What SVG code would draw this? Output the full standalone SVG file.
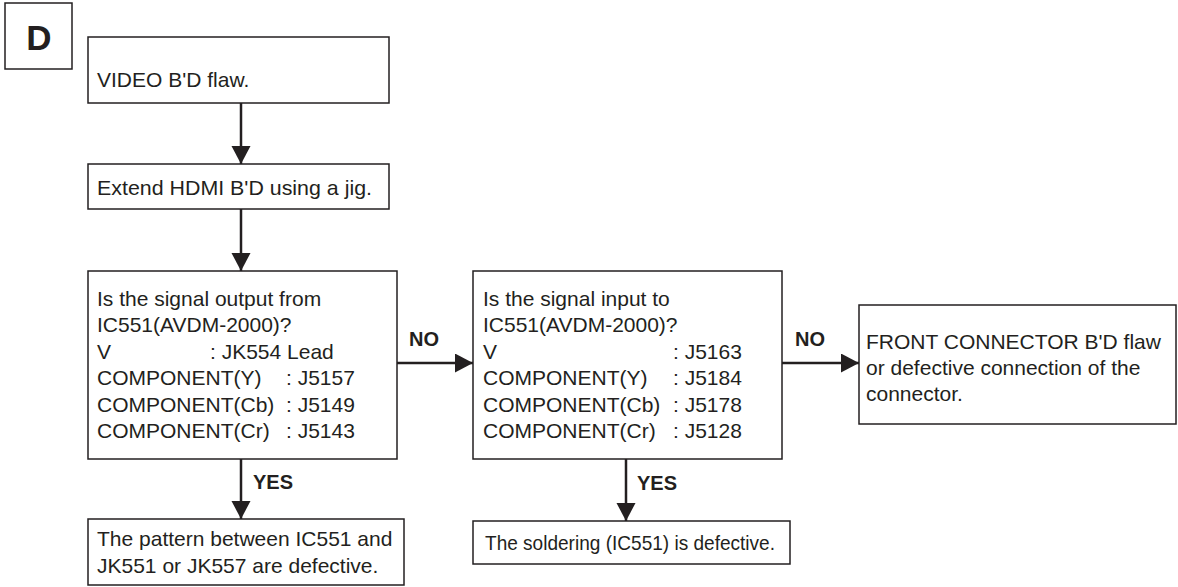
<svg xmlns="http://www.w3.org/2000/svg" width="1178" height="587" viewBox="0 0 1178 587">
<style>
.box{fill:#fff;stroke:#231f20;stroke-width:1.5}
.t{font-family:"Liberation Sans",Arial,sans-serif;font-size:21px;fill:#231f20}
.lb{font-family:"Liberation Sans",Arial,sans-serif;font-size:20px;font-weight:bold;fill:#231f20}
.ln{stroke:#231f20;stroke-width:2.5;fill:none}
</style>
<defs>
<marker id="ah" markerWidth="20" markerHeight="20" refX="18" refY="9.5" orient="auto" markerUnits="userSpaceOnUse" viewBox="0 0 20 20">
<path d="M0,0 L18,9.5 L0,19 Z" fill="#231f20"/>
</marker>
</defs>
<g id="label-d">
<rect class="box" x="5" y="3" width="67" height="66"/>
<text x="39" y="50" text-anchor="middle" style="font-family:'Liberation Sans',Arial,sans-serif;font-size:35px;font-weight:bold;fill:#231f20">D</text>
</g>
<g id="n1">
<rect class="box" x="88" y="37" width="301" height="66"/>
<text class="t" x="97" y="87">VIDEO B'D flaw.</text>
</g>
<g id="n2">
<rect class="box" x="88" y="164" width="301" height="45"/>
<text class="t" x="97" y="195" textLength="275" lengthAdjust="spacingAndGlyphs">Extend HDMI B'D using a jig.</text>
</g>
<g id="n3">
<rect class="box" x="88" y="271" width="309" height="188"/>
<text class="t">
<tspan x="97" y="306">Is the signal output from</tspan>
<tspan x="97" y="332">IC551(AVDM-2000)?</tspan>
<tspan x="97" y="359">V</tspan><tspan x="210" y="359">: JK554 Lead</tspan>
<tspan x="97" y="385">COMPONENT(Y)</tspan><tspan x="286" y="385">: J5157</tspan>
<tspan x="97" y="412">COMPONENT(Cb)</tspan><tspan x="286" y="412">: J5149</tspan>
<tspan x="97" y="438">COMPONENT(Cr)</tspan><tspan x="286" y="438">: J5143</tspan>
</text>
</g>
<g id="n4">
<rect class="box" x="473" y="271" width="309" height="188"/>
<text class="t">
<tspan x="483" y="306">Is the signal input to</tspan>
<tspan x="483" y="332">IC551(AVDM-2000)?</tspan>
<tspan x="483" y="359">V</tspan><tspan x="673" y="359">: J5163</tspan>
<tspan x="483" y="385">COMPONENT(Y)</tspan><tspan x="673" y="385">: J5184</tspan>
<tspan x="483" y="412">COMPONENT(Cb)</tspan><tspan x="673" y="412">: J5178</tspan>
<tspan x="483" y="438">COMPONENT(Cr)</tspan><tspan x="673" y="438">: J5128</tspan>
</text>
</g>
<g id="n5">
<rect class="box" x="859" y="305" width="317" height="119"/>
<text class="t">
<tspan x="866" y="349">FRONT CONNECTOR B'D flaw</tspan>
<tspan x="866" y="375">or defective connection of the</tspan>
<tspan x="866" y="401">connector.</tspan>
</text>
</g>
<g id="n6">
<rect class="box" x="88" y="519" width="316" height="66"/>
<text class="t">
<tspan x="97" y="546">The pattern between IC551 and</tspan>
<tspan x="97" y="573">JK551 or JK557 are defective.</tspan>
</text>
</g>
<g id="n7">
<rect class="box" x="473" y="521" width="317" height="43"/>
<text class="t" x="485" y="550" textLength="290" lengthAdjust="spacingAndGlyphs">The soldering (IC551) is defective.</text>
</g>
<g id="connectors">
<line class="ln" x1="241" y1="103" x2="241" y2="164" marker-end="url(#ah)"/>
<line class="ln" x1="241" y1="209" x2="241" y2="271" marker-end="url(#ah)"/>
<line class="ln" x1="397" y1="363" x2="473" y2="363" marker-end="url(#ah)"/>
<line class="ln" x1="782" y1="363" x2="859" y2="363" marker-end="url(#ah)"/>
<line class="ln" x1="241" y1="459" x2="241" y2="519" marker-end="url(#ah)"/>
<line class="ln" x1="626" y1="459" x2="626" y2="521" marker-end="url(#ah)"/>
<text class="lb" x="409" y="346">NO</text>
<text class="lb" x="795" y="346">NO</text>
<text class="lb" x="253" y="489">YES</text>
<text class="lb" x="637" y="490">YES</text>
</g>
</svg>
